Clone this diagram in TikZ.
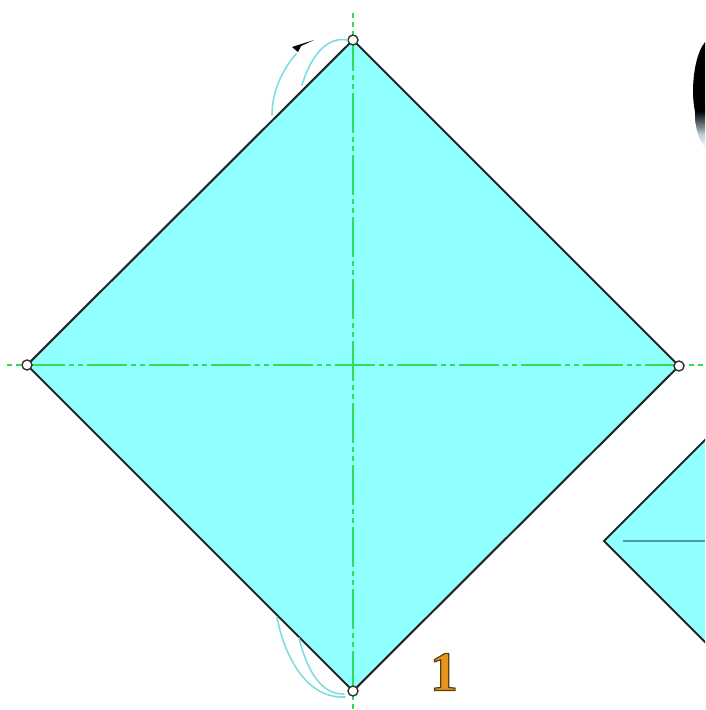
\documentclass[tikz,border=0pt]{standalone}
\usepackage{fontspec}
\setmainfont{Liberation Serif}
\usetikzlibrary{calc}
\definecolor{sheet}{HTML}{90FFFF}
\definecolor{foldgreen}{HTML}{30DE55}
\definecolor{curve}{HTML}{7FDDE0}
\definecolor{inner}{HTML}{4F9C9C}
\definecolor{numfill}{HTML}{E8951F}
\definecolor{blotgrey}{HTML}{B4C8D0}
\tikzset{
  x=1pt,y=-1pt,
  paper/.style={fill=sheet,draw=black!85,line width=2.1pt,line join=miter},
  axis/.style={foldgreen,line width=2pt,dash pattern=on 40pt off 4pt on 5pt off 4pt on 5pt off 4pt,dash phase=44pt},
  pin/.style={circle,draw=black!80,fill=white,line width=1.4pt,minimum size=10pt,inner sep=0pt},
  flap/.style={curve,line width=1.6pt,line cap=round},
}
\begin{document}
\begin{tikzpicture}
\useasboundingbox (0,0) rectangle (705,710);
% second sheet, cut off by the right edge
\begin{scope}
\clip (0,0) rectangle (705,710);
\coordinate (b) at (604,541);
\coordinate (bt) at (810,335);
\coordinate (bb) at (810,747);
\draw[paper,line width=1.9pt] (bt) -- (b) -- (bb) -- cycle;
\draw[inner,line width=1.2pt] (623,541) -- (705,541);
% dark blot at the right edge
\fill[black]
  (705,42) .. controls (697,52) and (693,72) .. (693,92)
  .. controls (693,100) and (694,106) .. (695,112)
  -- (705,112) -- cycle;
\shade[top color=black,bottom color=blotgrey]
  (695,111) .. controls (695,120) and (696,128) .. (698,134)
  -- (705,134) -- (705,111) -- cycle;
\shade[top color=blotgrey,bottom color=white]
  (698,133) .. controls (699,138) and (702,144) .. (705,148) -- (705,133) -- cycle;
\end{scope}
% main sheet
\coordinate (T) at (353,40);
\coordinate (R) at (679,366);
\coordinate (B) at (353,691);
\coordinate (L) at (27,365);
\draw[paper] (T) -- (R) -- (B) -- (L) -- cycle;
% fold axes
\coordinate (h1) at (7,365);
\coordinate (h2) at (705,365);
\coordinate (v1) at (353,13);
\coordinate (v2) at (353,710);
\draw[axis] (h1) -- (h2);
\draw[axis] (v1) -- (v2);
% pins
\node[pin] (pT) at (T) {};
\node[pin] (pR) at (R) {};
\node[pin] (pB) at (B) {};
\node[pin] (pL) at (L) {};
% flap curves
\draw[flap] (272,115) .. controls (272,92) and (282,70) .. (296,54);
\draw[flap] (302,85) .. controls (310,58) and (326,36) .. (pT.west);
\draw[flap] (277,617) .. controls (284,655) and (306,699) .. (345,697);
\draw[flap] (299,638) .. controls (306,667) and (320,695) .. (344,694);
% arrowhead
\fill[black] (314,40) -- (292,47) -- (298,52) -- (301,46) -- cycle;
% step number
\node[inner sep=0pt,font=\bfseries\fontsize{56pt}{56pt}\selectfont,text=numfill] (num) at (444,672)
  {\special{pdf:code q 2 Tr 1.2 w 0.35 0.25 0.05 RG}1\special{pdf:code Q}};
\end{tikzpicture}
\end{document}
